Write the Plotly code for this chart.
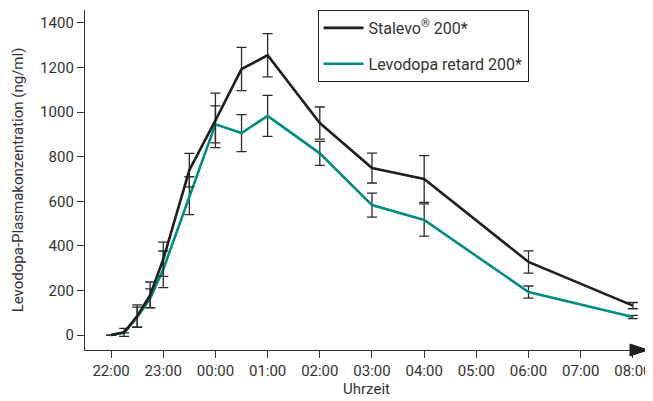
import plotly.graph_objects as go

# hours after 22:00
hours = [0, 0.25, 0.5, 0.75, 1, 1.5, 2, 2.5, 3, 4, 5, 6, 8, 10]
stalevo = [0, 12, 85, 180, 340, 740, 963, 1193, 1255, 951, 749, 700, 328, 132]
stalevo_err = [0, 18, 50, 58, 77, 75, 122, 97, 97, 72, 67, 105, 50, 14]
levodopa = [0, 10, 80, 165, 295, 625, 945, 906, 983, 815, 583, 516, 193, 81]
levodopa_err = [0, 0, 45, 42, 82, 85, 83, 83, 92, 54, 54, 72, 27, 7]

tick_vals = list(range(0, 11))
tick_text = ["22:00", "23:00", "00:00", "01:00", "02:00", "03:00", "04:00",
             "05:00", "06:00", "07:00", "08:00"]
y_ticks = [0, 200, 400, 600, 800, 1000, 1200, 1400]

FONT = "Roboto, Arial, sans-serif"
TXT = "#333333"

fig = go.Figure()
fig.add_trace(go.Scatter(
    x=hours, y=levodopa, mode="lines", name="Levodopa retard 200*",
    line=dict(color="#008c7e", width=2.6), legendgroup="b", legendrank=2,
    error_y=dict(type="data", array=levodopa_err, color="#2b2b2b", thickness=1.3, width=5),
))
fig.add_trace(go.Scatter(
    x=hours, y=stalevo, mode="lines", name="Stalevo<sup>®</sup> 200*",
    line=dict(color="#231f20", width=2.6), legendgroup="a", legendrank=1,
    error_y=dict(type="data", array=stalevo_err, color="#2b2b2b", thickness=1.3, width=5),
))

# arrow head at end of x axis
fig.add_shape(type="path", xref="paper", yref="paper", xsizemode="pixel",
              ysizemode="pixel", xanchor=1, yanchor=0,
              path="M -18,-6 L 0,0 L -18,6 Z", fillcolor="#231f20",
              line=dict(color="#231f20", width=1))

# page body has an 8px margin, so the figure is offset by (8, 8)
fig.update_layout(
    width=653, height=401,
    margin=dict(l=77, r=13, t=2, b=59, autoexpand=False),
    paper_bgcolor="white", plot_bgcolor="white",
    font=dict(family=FONT, size=14, color=TXT),
    showlegend=True,
    legend=dict(x=0.413, y=1.0, xanchor="left", yanchor="top",
                bordercolor="#231f20", borderwidth=1, bgcolor="white",
                font=dict(size=16, color=TXT), traceorder="grouped",
                tracegroupgap=12, itemwidth=40),
    xaxis=dict(range=[-0.5, 10.29], tickvals=tick_vals, ticktext=tick_text,
               showgrid=False, zeroline=False, showline=True, linecolor="#333333",
               linewidth=1.3, ticks="outside", ticklen=7, tickcolor="#333333",
               automargin=False,
               title=dict(text="Uhrzeit", standoff=4, font=dict(size=15)),
               tickfont=dict(size=15)),
    yaxis=dict(range=[-67, 1458], tickvals=y_ticks, showgrid=False, zeroline=False,
               showline=True, linecolor="#333333", linewidth=1.3, ticks="outside",
               ticklen=7, tickcolor="#333333", automargin=False,
               title=dict(text="Levodopa-Plasmakonzentration (ng/ml)", standoff=12,
                          font=dict(size=15)),
               tickfont=dict(size=15)),
)

fig.write_html("out.html")
